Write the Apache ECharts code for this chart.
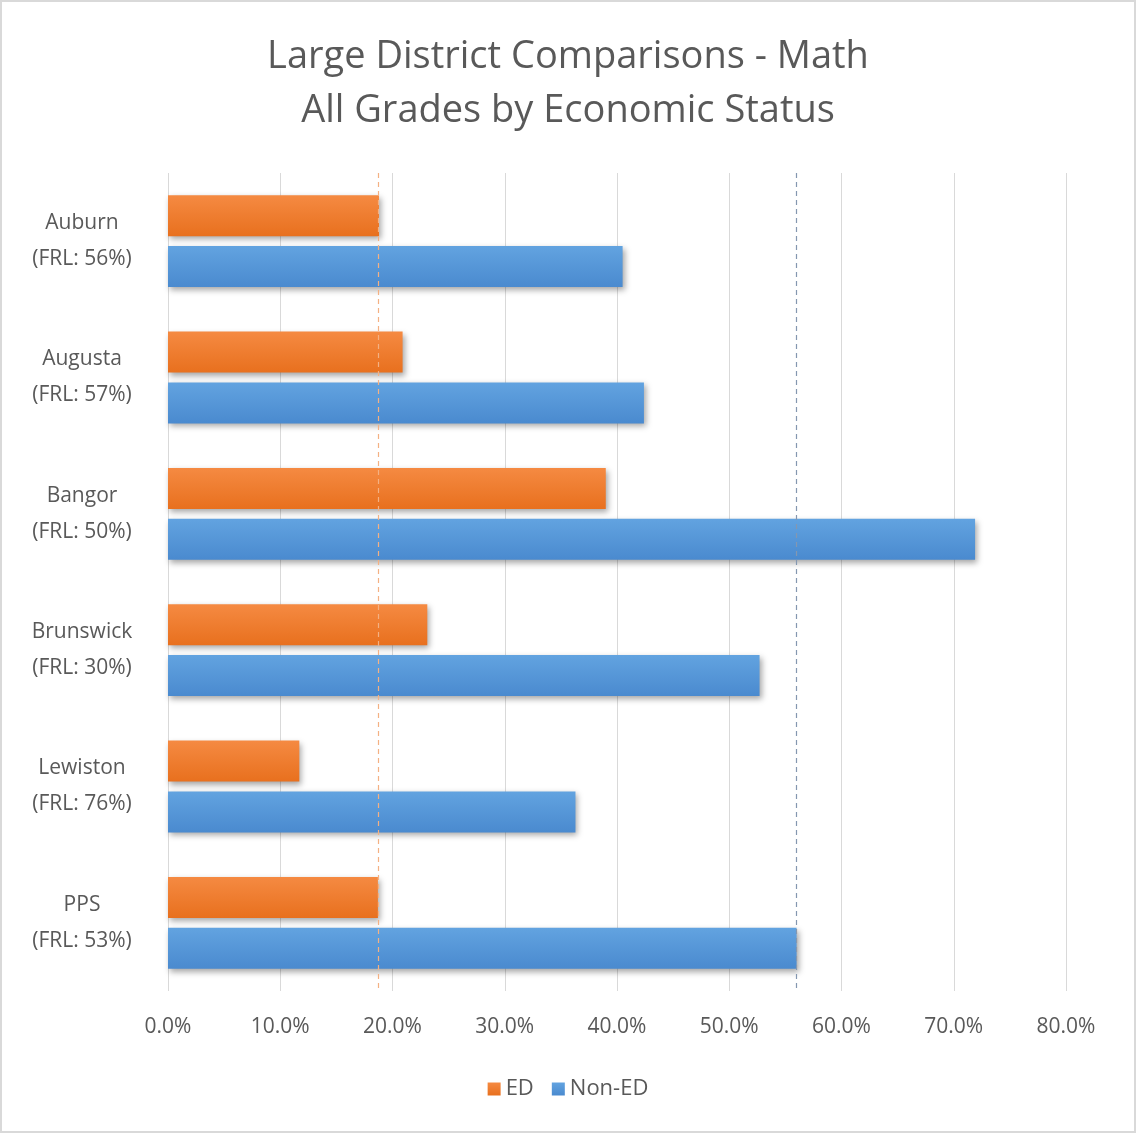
<!DOCTYPE html>
<html><head><meta charset="utf-8">
<script src="https://cdn.jsdelivr.net/npm/echarts@6/dist/echarts.min.js"></script>
<style>
html,body{margin:0;padding:0;background:#fff;}
#frame{position:absolute;left:0;top:0;width:1132px;height:1129px;border:2px solid #d9d9d9;}
#chart{position:absolute;left:0;top:0;width:1136px;height:1133px;}
</style></head>
<body><div id="frame"></div><div id="chart"></div>
<script>
const categories = ['Auburn\n(FRL: 56%)','Augusta\n(FRL: 57%)','Bangor\n(FRL: 50%)','Brunswick\n(FRL: 30%)','Lewiston\n(FRL: 76%)','PPS\n(FRL: 53%)'];
const edValues = [18.8, 20.9, 39.0, 23.1, 11.7, 18.7];
const nonEdValues = [40.5, 42.4, 71.9, 52.7, 36.3, 56.0];
const edAverage = 18.7;
const nonEdAverage = 56.0;
const xTicks = [0,10,20,30,40,50,60,70,80];

const chart = echarts.init(document.getElementById('chart'));
const font = "'Open Sans', 'Liberation Sans', sans-serif";
function grad(c1,c2){return new echarts.graphic.LinearGradient(0,0,0,1,[{offset:0,color:c1},{offset:1,color:c2}]);}
chart.setOption({
  animation:false,
  textStyle:{fontFamily:font},
  title:{text:'Large District Comparisons - Math\nAll Grades by Economic Status',left:'center',top:25,
    textStyle:{fontFamily:font,fontSize:38,fontWeight:'normal',color:'#595959',lineHeight:54}},
  legend:{bottom:28,left:'center',itemWidth:13,itemHeight:13,itemGap:18,icon:'rect',
    textStyle:{fontFamily:font,fontSize:22,color:'#595959'},data:['ED','Non-ED']},
  grid:{left:168,right:70,top:173,bottom:142},
  xAxis:{type:'value',min:xTicks[0],max:xTicks[xTicks.length-1],interval:10,
    axisLabel:{formatter:v=>v.toFixed(1)+'%',fontSize:21,color:'#595959',margin:26,fontFamily:font},
    axisLine:{show:false},axisTick:{show:false},
    splitLine:{lineStyle:{color:'#d9d9d9',width:1}}},
  yAxis:{type:'category',data:categories,inverse:true,
    axisLine:{show:false},axisTick:{show:false},
    axisLabel:{fontSize:21,color:'#595959',lineHeight:36,margin:86,align:'center',fontFamily:font}},
  series:[
    {name:'ED',type:'bar',data:edValues,barWidth:41,barGap:'24%',
      itemStyle:{color:grad('#F58A42','#E8701E'),shadowBlur:6,shadowColor:'rgba(0,0,0,0.35)',shadowOffsetX:2,shadowOffsetY:3},
      markLine:{symbol:'none',silent:true,label:{show:false},
        lineStyle:{type:[5,4],color:'#F4B183',width:1.2},data:[{xAxis:edAverage}]}},
    {name:'Non-ED',type:'bar',data:nonEdValues,barWidth:41,
      itemStyle:{color:grad('#62A3E0','#4A8ACF'),shadowBlur:6,shadowColor:'rgba(0,0,0,0.35)',shadowOffsetX:2,shadowOffsetY:3},
      markLine:{symbol:'none',silent:true,label:{show:false},
        lineStyle:{type:[5,4],color:'#8497B0',width:1.2},data:[{xAxis:nonEdAverage}]}}
  ],
  color:['#ED7D31','#5B9BD5']
});
</script></body></html>
